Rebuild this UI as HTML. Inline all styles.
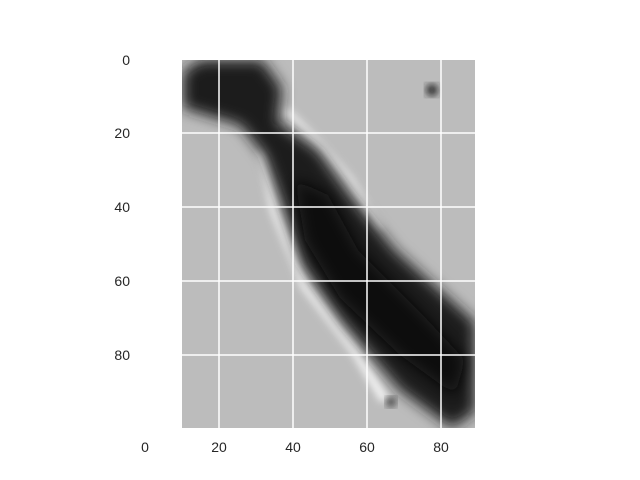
<!DOCTYPE html>
<html><head><meta charset="utf-8"><style>
html,body{margin:0;padding:0;background:#fff;}
svg{display:block;font-family:"Liberation Sans","DejaVu Sans",sans-serif;}
</style></head><body>
<svg width="640" height="480" viewBox="0 0 640 480">
<defs>
<filter id="b8" x="-20%" y="-20%" width="140%" height="140%"><feGaussianBlur stdDeviation="7"/></filter>
<filter id="b4" x="-20%" y="-20%" width="140%" height="140%"><feGaussianBlur stdDeviation="4"/></filter>
<clipPath id="clip"><rect x="182" y="60" width="293" height="368"/></clipPath>
</defs>
<g clip-path="url(#clip)">
<rect x="182" y="60" width="293" height="368" fill="#bcbcbc"/>
<path d="M262,150 L275,210 L305,285 L355,350 L385,400" stroke="#f2f2f2" stroke-width="10" fill="none" filter="url(#b4)"/>
<path d="M285,110 L320,145 L350,180 L380,230" stroke="#e8e8e8" stroke-width="8" fill="none" filter="url(#b4)"/>
<path d="M183,72 L200,60 L262,60 L282,88 L278,122 L318,150 L350,195 L395,250 L475,322 L475,412 L452,428 L400,390 L342,322 L302,265 L282,205 L264,155 L240,125 L183,108 Z" fill="#1e1e1e" filter="url(#b8)"/>
<path d="M295,180 L328,195 L358,250 L420,312 L465,360 L455,395 L400,355 L340,298 L305,240 Z" fill="#0c0c0c" filter="url(#b8)"/>
<circle cx="432" cy="90" r="6" fill="#222" filter="url(#b4)"/>
<circle cx="391" cy="402" r="5" fill="#333" filter="url(#b4)"/>
<g stroke="#fff" stroke-width="1.5">
<line x1="219" y1="60" x2="219" y2="428"/><line x1="293" y1="60" x2="293" y2="428"/><line x1="367" y1="60" x2="367" y2="428"/><line x1="441" y1="60" x2="441" y2="428"/>
<line x1="182" y1="133" x2="475" y2="133"/><line x1="182" y1="207" x2="475" y2="207"/><line x1="182" y1="281" x2="475" y2="281"/><line x1="182" y1="355" x2="475" y2="355"/>
</g>
</g>
<g font-size="14" fill="#262626" text-anchor="end">
<text x="130" y="65">0</text><text x="130" y="138">20</text><text x="130" y="212">40</text><text x="130" y="286">60</text><text x="130" y="360">80</text>
</g>
<g font-size="14" fill="#262626" text-anchor="middle">
<text x="145" y="452">0</text><text x="219" y="452">20</text><text x="293" y="452">40</text><text x="367" y="452">60</text><text x="441" y="452">80</text>
</g>
</svg>
</body></html>
